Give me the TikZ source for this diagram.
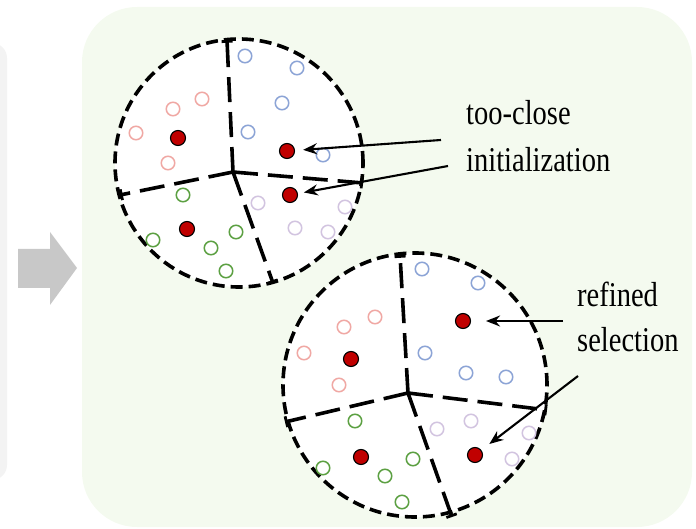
\documentclass[tikz,border=0pt]{standalone}
\usepackage{fontspec}
\setmainfont{Liberation Serif}
\usetikzlibrary{arrows.meta}
\definecolor{panelgreen}{RGB}{244,250,239}
\definecolor{panelgray}{RGB}{243,243,243}
\definecolor{arrowgray}{RGB}{200,200,200}
\definecolor{ptpink}{RGB}{240,168,164}
\definecolor{ptblue}{RGB}{140,164,214}
\definecolor{ptlav}{RGB}{210,196,224}
\definecolor{ptgreen}{RGB}{92,160,66}
\definecolor{seedred}{RGB}{192,0,0}
% labels are set in a slightly tall serif
\newcommand{\tallword}[1]{\scalebox{1}[1.22]{#1}}
\tikzset{
  region/.style={draw=black, line width=3.6pt, dash pattern=on 12pt off 6pt, fill=white},
  border/.style={draw=black, line width=3.6pt, dash pattern=on 25pt off 10pt, -{Bar[width=11pt,line width=2.8pt]}},
  pt/.style={circle, draw=#1, line width=1.5pt, minimum size=13.5pt, inner sep=0pt},
  seed/.style={circle, draw=black, line width=1.1pt, fill=seedred, minimum size=15pt, inner sep=0pt},
  callout/.style={draw=black, line width=2.1pt, -{Stealth[length=14pt,width=11pt]}},
  lbl/.style={font=\fontsize{28.5}{46}\selectfont, inner sep=0pt, anchor=base west}
}
\begin{document}
\begin{tikzpicture}[x=1pt, y=-1pt]
\useasboundingbox (0,0) rectangle (696,529);

% panels and the step arrow
\fill[panelgray, rounded corners=15pt] (-30,43) rectangle (7,480);
\fill[panelgreen, rounded corners=55pt] (82,7) rectangle (692,527);
\fill[arrowgray] (18,249) -- (50,249) -- (50,232) -- (77,268) -- (50,305) -- (50,288) -- (18,288) -- cycle;

% ---------- upper clustering ----------
\node[region, circle, minimum size=248pt, inner sep=0pt] (top) at (239,163) {};
\coordinate (tj) at (233,172);
\draw[border] (tj) -- (227,40);
\draw[border] (tj) -- (120,195);
\draw[border] (tj) -- (363,183);
\draw[border] (tj) -- (273,283);

\foreach \x/\y in {202/99, 173/109, 136/133, 168/163} \node[pt=ptpink] at (\x,\y) {};
\foreach \x/\y in {245/56, 297/68, 282/103, 248/132, 323/155} \node[pt=ptblue] at (\x,\y) {};
\foreach \x/\y in {258/203, 345/207, 295/228, 328/232} \node[pt=ptlav] at (\x,\y) {};
\foreach \x/\y in {183/195, 153/240, 236/232, 211/248, 226/271} \node[pt=ptgreen] at (\x,\y) {};

\node[seed] (ta) at (178,138) {};
\node[seed] (tb) at (287,151) {};
\node[seed] (tc) at (290,195) {};
\node[seed] (td) at (187,229) {};

\node[lbl] (close1) at (466,125) {\tallword{too-close}};
\node[lbl] (close2) at (466,172) {\tallword{initialization}};
\coordinate (s1) at (441,140);
\coordinate (s2) at (448,166);
\draw[callout, shorten >=8pt] (s1) -- (tb);
\draw[callout, shorten >=6pt] (s2) -- (tc);

% ---------- lower clustering ----------
\node[region, circle, minimum size=264pt, inner sep=0pt] (bot) at (415,385) {};
\coordinate (bj) at (408,393);
\draw[border] (bj) -- (400,255);
\draw[border] (bj) -- (285,422);
\draw[border] (bj) -- (547,410);
\draw[border] (bj) -- (452,517);

\foreach \x/\y in {375/317, 344/327, 304/353, 339/385} \node[pt=ptpink] at (\x,\y) {};
\foreach \x/\y in {422/269, 478/283, 425/353, 466/373, 506/377} \node[pt=ptblue] at (\x,\y) {};
\foreach \x/\y in {437/429, 471/421, 529/433, 512/459} \node[pt=ptlav] at (\x,\y) {};
\foreach \x/\y in {355/421, 323/468, 413/459, 385/476, 402/502} \node[pt=ptgreen] at (\x,\y) {};

\node[seed] (ba) at (463,321) {};
\node[seed] (bb) at (351,359) {};
\node[seed] (bc) at (361,457) {};
\node[seed] (bd) at (475,455) {};

\node[lbl] (ref1) at (577,307) {\tallword{refined}};
\node[lbl] (ref2) at (577,352) {\tallword{selection}};
\coordinate (s3) at (563,321);
\coordinate (s4) at (578,376);
\draw[callout, shorten >=15pt] (s3) -- (ba);
\draw[callout, shorten >=10pt] (s4) -- (bd);
\end{tikzpicture}
\end{document}
